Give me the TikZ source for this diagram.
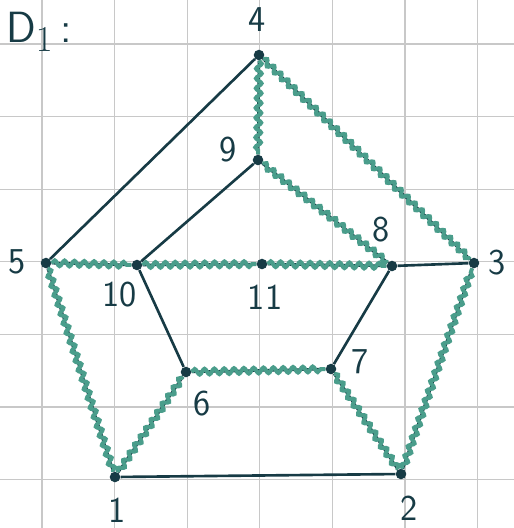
\documentclass[tikz,border=0pt]{standalone}
\usepackage{tikz}
\usetikzlibrary{decorations.pathmorphing}
\definecolor{ink}{HTML}{173B45}
\definecolor{wave}{HTML}{4A9D8B}
\definecolor{gridgray}{HTML}{C8C8C8}

\begin{document}
\begin{tikzpicture}[x=0.02cm,y=-0.02cm,
  dot/.style={circle,fill=ink,inner sep=0pt,minimum size=6pt},
  edge/.style={ink,line width=1.5pt},
  cyc/.style={wave,line width=2.3pt,decorate,
    decoration={snake,segment length=5.6pt,amplitude=1.6pt}},
  lab/.style={ink,font=\huge\sffamily}]
\useasboundingbox (0,0) rectangle (514,528);
\foreach \i in {0,...,6} {
  \draw[gridgray,line width=0.7pt] ({42+72.6*\i},0)--({42+72.6*\i},528);
  \draw[gridgray,line width=0.7pt] (0,{44+72.6*\i})--(514,{44+72.6*\i});
}
\node[dot] (v1) at (115,477) {};
\node[dot] (v2) at (401,474) {};
\node[dot] (v3) at (474,263) {};
\node[dot] (v4) at (259,55) {};
\node[dot] (v5) at (46,263) {};
\node[dot] (v6) at (186,372) {};
\node[dot] (v7) at (331,369) {};
\node[dot] (v8) at (392,266) {};
\node[dot] (v9) at (258,160) {};
\node[dot] (v10) at (137,265) {};
\node[dot] (v11) at (262,264) {};
\draw[edge] (v4)--(v5) (v4)--(v9) (v4)--(v3) (v9)--(v10) (v9)--(v8)
  (v5)--(v10) (v10)--(v11) (v11)--(v8) (v8)--(v3) (v10)--(v6) (v8)--(v7)
  (v6)--(v7) (v5)--(v1) (v1)--(v6) (v1)--(v2) (v7)--(v2) (v2)--(v3);
\draw[cyc] (v4)--(v9);
\draw[cyc] (v4)--(v3);
\draw[cyc] (v9)--(v8);
\draw[cyc] (v5)--(v10);
\draw[cyc] (v10)--(v11);
\draw[cyc] (v11)--(v8);
\draw[cyc] (v6)--(v7);
\draw[cyc] (v5)--(v1);
\draw[cyc] (v1)--(v6);
\draw[cyc] (v7)--(v2);
\draw[cyc] (v2)--(v3);
\node[lab,anchor=west] (title) at (0,32) {\Huge D$_1$\,:};
\node[lab] (l1) at (117,510) {1};
\node[lab] (l2) at (409,508) {2};
\node[lab] (l3) at (497,263) {3};
\node[lab] (l4) at (257,20) {4};
\node[lab] (l5) at (17,262) {5};
\node[lab] (l6) at (202,404) {6};
\node[lab] (l7) at (360,362) {7};
\node[lab] (l8) at (381,230) {8};
\node[lab] (l9) at (228,150) {9};
\node[lab] (l10) at (120,295) {10};
\node[lab] (l11) at (265,297) {11};
\end{tikzpicture}
\end{document}
